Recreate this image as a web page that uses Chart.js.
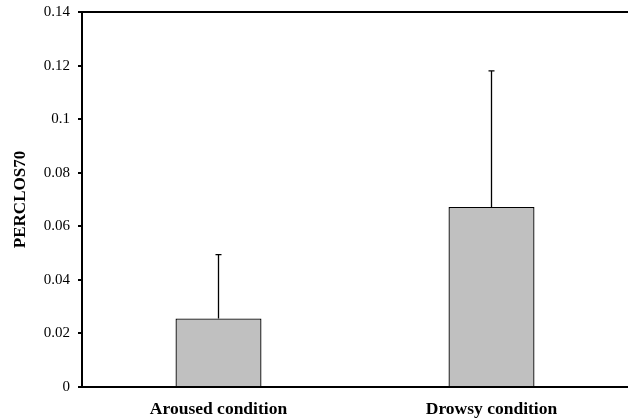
<!DOCTYPE html>
<html>
<head>
<meta charset="utf-8">
<script src="https://cdn.jsdelivr.net/npm/chart.js@4"></script>
<style>
  html, body { margin: 0; padding: 0; background: #fff; }
  #wrap { width: 628px; height: 420px; }
</style>
</head>
<body>
<div id="wrap"><canvas id="chart" width="628" height="420"></canvas></div>
<script>
const categories = ["Aroused condition", "Drowsy condition"];
const means = [0.0256, 0.0672];
const errors = [0.0238, 0.0508];
const yTicks = [0, 0.02, 0.04, 0.06, 0.08, 0.1, 0.12, 0.14];

// upward error bars + top frame line
const errorBars = {
  id: "errorBars",
  afterDatasetsDraw(chart) {
    const ctx = chart.ctx;
    const x = chart.scales.x;
    const y = chart.scales.y;
    ctx.save();
    ctx.strokeStyle = "#000";
    ctx.lineWidth = 1.3;
    means.forEach((m, i) => {
      const cx = chart.getDatasetMeta(0).data[i].x;
      const y0 = y.getPixelForValue(m);
      const y1 = y.getPixelForValue(m + errors[i]);
      ctx.beginPath();
      ctx.moveTo(cx, y0);
      ctx.lineTo(cx, y1);
      ctx.moveTo(cx - 3, y1);
      ctx.lineTo(cx + 3, y1);
      ctx.stroke();
    });
    // frame line along the top
    ctx.lineWidth = 2;
    const top = y.getPixelForValue(yTicks[yTicks.length - 1]);
    ctx.beginPath();
    ctx.moveTo(x.left, top);
    ctx.lineTo(x.right, top);
    ctx.stroke();
    ctx.restore();
  }
};

new Chart(document.getElementById("chart").getContext("2d"), {
  type: "bar",
  data: {
    labels: categories,
    datasets: [{
      data: means,
      backgroundColor: "#c0c0c0",
      borderColor: "#000",
      borderWidth: 1.3,
      barPercentage: 0.315,
      categoryPercentage: 1
    }]
  },
  options: {
    responsive: false,
    animation: false,
    layout: { padding: { top: 12, right: 0, left: 0, bottom: 0 } },
    plugins: { legend: { display: false }, tooltip: { enabled: false } },
    scales: {
      x: {
        grid: { display: false },
        border: { display: true, color: "#000", width: 2 },
        ticks: {
          color: "#000",
          padding: 4,
          font: { family: "Liberation Serif", size: 17.5, weight: "bold" }
        },
        afterFit(scale) { scale.height = 33; }
      },
      y: {
        min: 0,
        max: 0.14,
        afterBuildTicks(scale) { scale.ticks = yTicks.map(v => ({ value: v })); },
        grid: { drawOnChartArea: false, drawTicks: true, tickLength: 4, color: "#000", lineWidth: 2 },
        border: { display: true, color: "#000", width: 2 },
        ticks: {
          color: "#000",
          padding: 8,
          font: { family: "Liberation Serif", size: 15, lineHeight: 0.5 },
          callback: v => String(Math.round(v * 100) / 100)
        },
        title: {
          display: true,
          text: "PERCLOS70",
          color: "#000",
          padding: { top: 10, bottom: 0 },
          font: { family: "Liberation Serif", size: 17, weight: "bold" }
        },
        afterFit(scale) { scale.width = 82; }
      }
    }
  },
  plugins: [errorBars]
});
</script>
</body>
</html>
